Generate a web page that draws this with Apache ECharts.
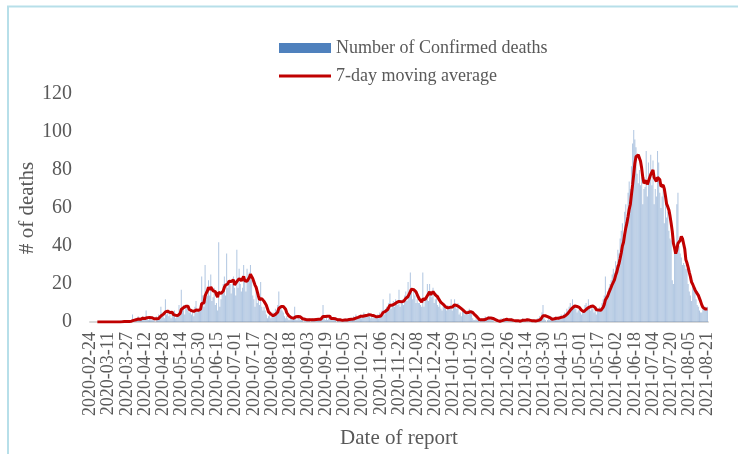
<!DOCTYPE html>
<html>
<head>
<meta charset="utf-8">
<title>Confirmed deaths</title>
<script src="https://cdn.jsdelivr.net/npm/echarts@6/dist/echarts.min.js"></script>
<style>
  html, body { margin: 0; padding: 0; background: #fff; }
  #chart { width: 738px; height: 454px; }
</style>
</head>
<body>
<div id="chart"></div>
<script>
// First day of the series, one bar per day
const startDate = "2020-02-24";

// Daily confirmed deaths (16 days per row)
const dailyDeaths = [
  // 2020-02-24
  0, 0, 0, 0, 0, 0, 0, 0, 0, 0, 0, 0, 0, 0, 0, 0,
  // 2020-03-11
  0, 0, 0, 0, 0, 0, 0, 0, 0, 0, 0, 1, 0, 0, 1, 0,
  // 2020-03-27
  0, 1, 0, 1, 0, 4, 0, 1, 2, 1, 3, 2, 1, 2, 3, 1,
  // 2020-04-12
  1, 6, 2, 1, 3, 2, 1, 1, 2, 0, 3, 2, 4, 3, 8, 5,
  // 2020-04-28
  3, 2, 12, 4, 6, 3, 5, 2, 4, 3, 6, 2, 3, 4, 9, 5,
  // 2020-05-14
  17, 6, 9, 4, 8, 8, 6, 5, 7, 4, 6, 3, 8, 11, 5, 6,
  // 2020-05-30
  6, 8, 24, 14, 8, 30, 16, 14, 22, 14, 25, 11, 13, 18, 9, 10,
  // 2020-06-15
  6, 42, 8, 12, 16, 20, 24, 14, 36, 18, 22, 20, 15, 20, 24, 18,
  // 2020-07-01
  14, 38, 18, 28, 20, 16, 18, 30, 22, 16, 28, 24, 26, 30, 22, 14,
  // 2020-07-17
  12, 8, 16, 10, 14, 9, 21, 8, 6, 8, 6, 4, 2, 3, 4, 2,
  // 2020-08-02
  3, 5, 4, 7, 6, 9, 16, 7, 8, 6, 5, 3, 2, 3, 2, 1,
  // 2020-08-18
  2, 3, 1, 2, 8, 2, 1, 3, 2, 1, 2, 1, 0, 1, 2, 1,
  // 2020-09-03
  1, 2, 0, 1, 2, 1, 1, 2, 1, 2, 1, 2, 3, 9, 2, 1,
  // 2020-09-19
  3, 1, 2, 3, 1, 2, 1, 2, 1, 0, 1, 2, 1, 0, 1, 1,
  // 2020-10-05
  1, 2, 1, 2, 1, 1, 2, 1, 3, 2, 4, 3, 2, 3, 4, 2,
  // 2020-10-21
  3, 5, 4, 3, 4, 5, 3, 2, 4, 2, 3, 2, 3, 4, 2, 5,
  // 2020-11-06
  3, 6, 12, 4, 7, 8, 6, 10, 15, 7, 9, 11, 8, 12, 10, 9,
  // 2020-11-22
  17, 8, 11, 12, 9, 14, 16, 11, 21, 15, 26, 18, 12, 16, 14, 10,
  // 2020-12-08
  12, 10, 10, 9, 8, 26, 8, 12, 14, 20, 11, 20, 16, 13, 18, 10,
  // 2020-12-24
  12, 15, 9, 8, 11, 7, 6, 9, 8, 7, 6, 9, 8, 7, 12, 6,
  // 2021-01-09
  9, 12, 8, 7, 10, 4, 5, 3, 6, 7, 4, 5, 6, 4, 7, 5,
  // 2021-01-25
  6, 2, 1, 1, 2, 1, 1, 0, 1, 2, 1, 2, 3, 2, 2, 3,
  // 2021-02-10
  2, 1, 2, 1, 0, 0, 0, 1, 0, 1, 2, 1, 2, 1, 2, 1,
  // 2021-02-26
  1, 0, 1, 2, 1, 0, 0, 1, 0, 1, 0, 1, 1, 2, 1, 0,
  // 2021-03-14
  1, 2, 0, 1, 0, 1, 0, 1, 0, 1, 2, 1, 3, 2, 5, 9,
  // 2021-03-30
  2, 1, 0, 1, 2, 1, 3, 2, 1, 2, 3, 2, 1, 3, 2, 4,
  // 2021-04-15
  3, 4, 5, 3, 7, 6, 8, 10, 6, 12, 8, 9, 7, 5, 6, 7,
  // 2021-05-01
  5, 4, 6, 5, 9, 10, 7, 12, 8, 6, 9, 7, 5, 6, 4, 7,
  // 2021-05-17
  6, 8, 7, 10, 12, 14, 24, 13, 16, 18, 20, 22, 25, 28, 26, 32,
  // 2021-06-02
  30, 38, 36, 44, 48, 52, 46, 58, 62, 55, 68, 74, 70, 82, 94, 101,
  // 2021-06-18
  96, 92, 78, 73, 80, 72, 76, 62, 70, 71, 90, 66, 84, 75, 88, 72,
  // 2021-07-04
  85, 62, 70, 66, 90, 84, 68, 60, 66, 70, 52, 64, 55, 58, 48, 44,
  // 2021-07-20
  43, 22, 20, 38, 37, 62, 68, 40, 36, 34, 30, 31, 30, 28, 28, 20,
  // 2021-08-05
  16, 14, 11, 22, 18, 18, 12, 9, 8, 6, 5, 5, 9, 7, 8, 6, 8
];

const seriesNames = ["Number of Confirmed deaths", "7-day moving average"];
const yTicks = [0, 20, 40, 60, 80, 100, 120];

/*
  Category axis: one date string per daily value
*/
function buildDates(start, count) {
  const dates = [];
  const d = new Date(start + "T00:00:00Z");
  for (let i = 0; i < count; i++) {
    dates.push(d.toISOString().slice(0, 10));
    d.setUTCDate(d.getUTCDate() + 1);
  }
  return dates;
}

// Trailing 7-day mean of the daily values (empty for the first 6 days)
function movingAverage(values, windowSize) {
  return values.map((v, i) => {
    if (i < windowSize - 1) return null;
    let sum = 0;
    for (let k = i - windowSize + 1; k <= i; k++) sum += values[k];
    return +(sum / windowSize).toFixed(2);
  });
}

const dates = buildDates(startDate, dailyDeaths.length);
const movingAvg = movingAverage(dailyDeaths, 7);

const font = "'Liberation Serif', 'Times New Roman', serif";
const textColor = "#595959";

const chart = echarts.init(document.getElementById("chart"), null, { renderer: "canvas" });

chart.setOption({
  animation: false,
  backgroundColor: "#fff",
  textStyle: { fontFamily: font, color: textColor },
  graphic: [
    {
      // light frame around the chart area
      type: "rect",
      shape: { x: 8, y: 6.5, width: 760, height: 470 },
      style: { fill: "none", stroke: "#b7dfe9", lineWidth: 2 },
      silent: true,
    },
  ],
  legend: {
    orient: "vertical",
    left: 279,
    top: 39,
    padding: 0,
    itemWidth: 52,
    itemHeight: 10,
    itemGap: 10,
    textStyle: { fontFamily: font, fontSize: 18, color: textColor },
    data: [
      { name: seriesNames[0], icon: "rect", itemStyle: { color: "#4f81bd", opacity: 1 } },
      {
        name: seriesNames[1],
        icon: "path://M0,0 L52,0 L52,3 L0,3 Z",
        itemStyle: { color: "#c00000" },
      },
    ],
  },
  grid: { left: 90, right: 30, top: 94, bottom: 132 },
  xAxis: {
    type: "category",
    data: dates,
    name: "Date of report",
    nameLocation: "middle",
    nameGap: 106,
    nameTextStyle: { fontFamily: font, fontSize: 21, color: textColor },
    axisLine: { lineStyle: { color: "#d9d9d9", width: 2 } },
    axisTick: { show: false },
    axisLabel: {
      interval: 15,
      rotate: 90,
      margin: 10,
      showMinLabel: true,
      showMaxLabel: true,
      hideOverlap: false,
      fontFamily: font,
      fontSize: 18,
      color: textColor,
    },
  },
  yAxis: {
    type: "value",
    min: yTicks[0],
    max: yTicks[yTicks.length - 1],
    interval: yTicks[1] - yTicks[0],
    name: "# of deaths",
    nameLocation: "middle",
    nameGap: 52,
    nameMoveOverlap: false,
    nameTextStyle: { fontFamily: font, fontSize: 21, color: textColor },
    axisLine: { show: false },
    axisTick: { show: false },
    splitLine: { show: false },
    axisLabel: {
      margin: 18,
      padding: [4, 0, 0, 0],
      fontFamily: font,
      fontSize: 20,
      color: textColor,
    },
  },
  series: [
    {
      name: seriesNames[0],
      type: "bar",
      data: dailyDeaths,
      barWidth: "40%",
      itemStyle: { color: "#4f81bd", opacity: 0.45 },
    },
    {
      name: seriesNames[1],
      type: "line",
      data: movingAvg,
      symbol: "none",
      showSymbol: false,
      z: 5,
      lineStyle: { color: "#c00000", width: 3 },
      itemStyle: { color: "#c00000" },
    },
  ],
});
</script>
</body>
</html>
